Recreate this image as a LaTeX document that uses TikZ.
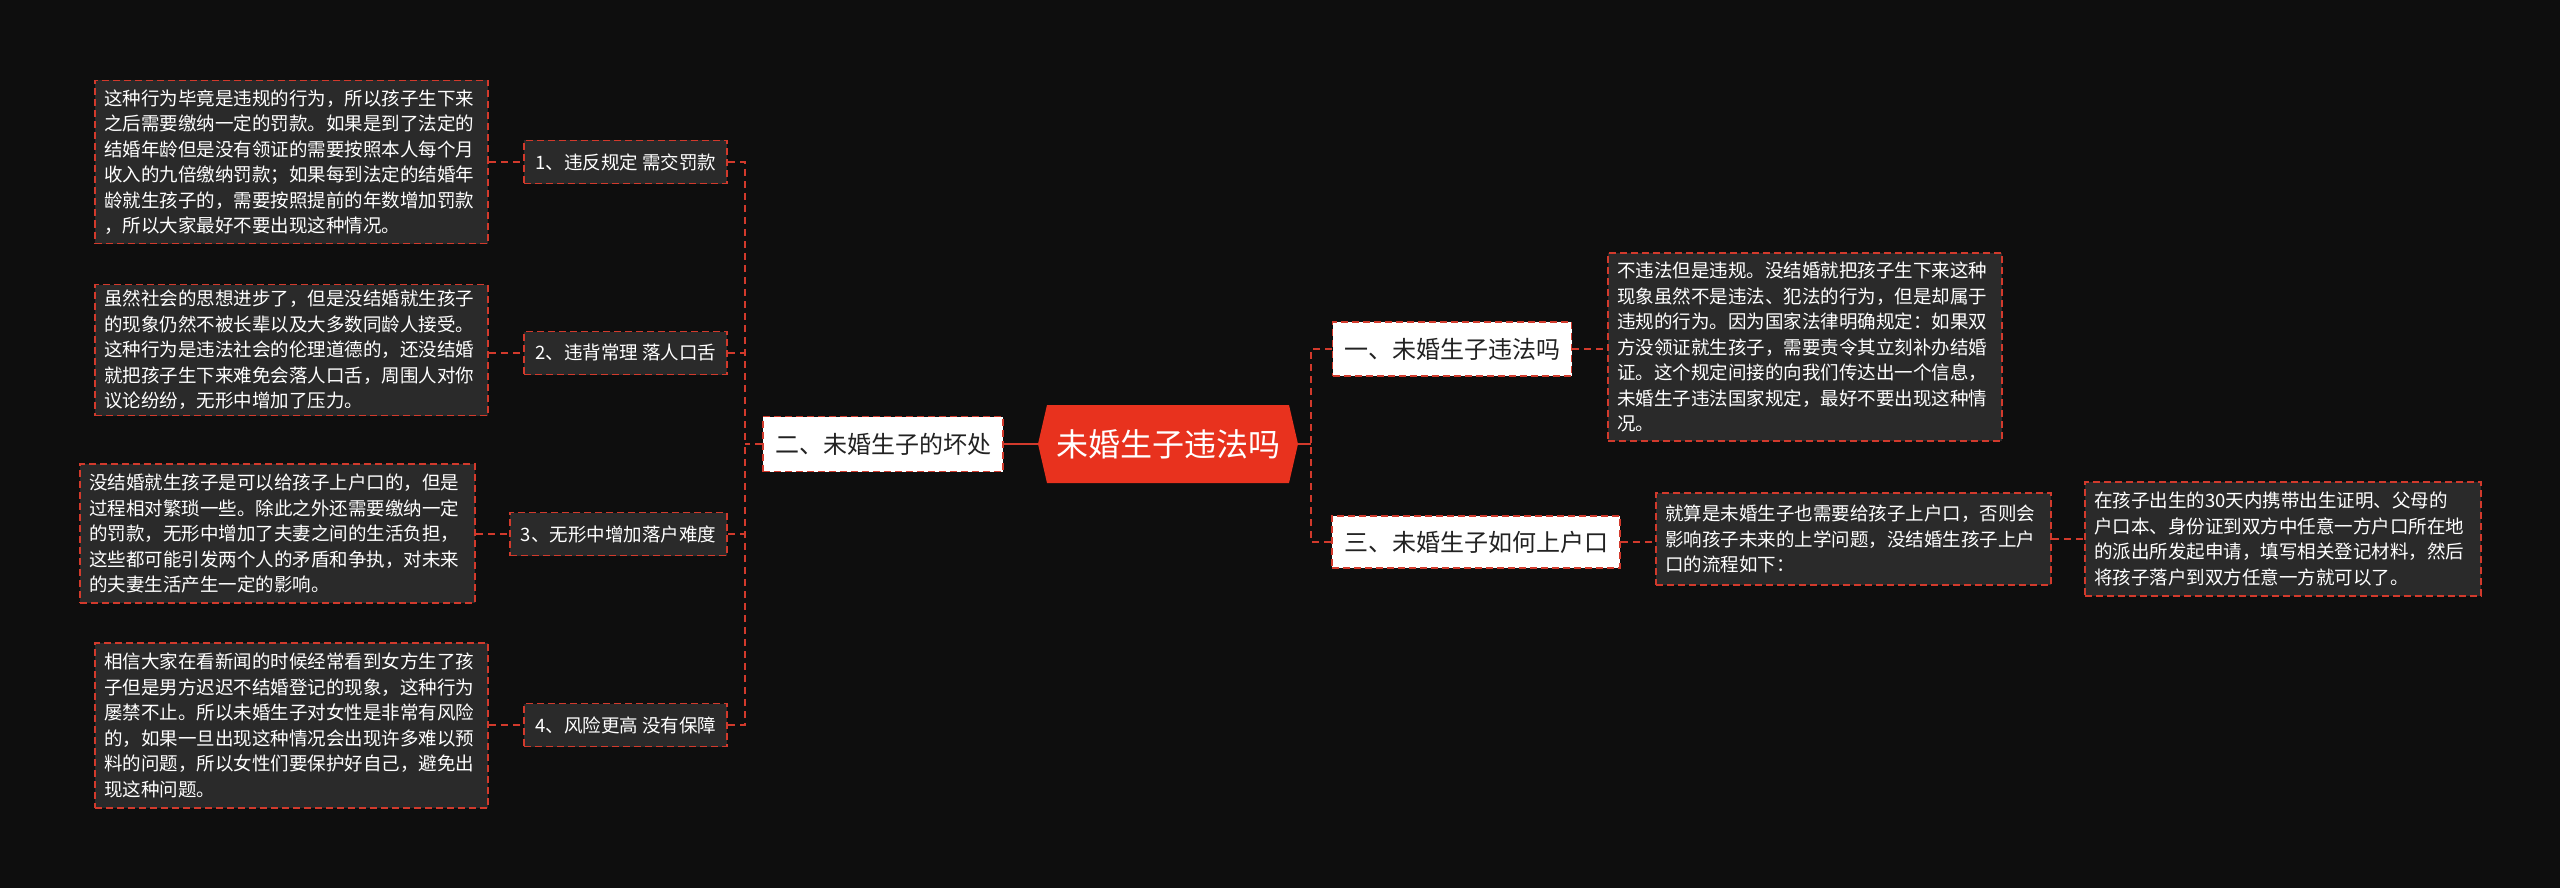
\documentclass[tikz,border=0pt]{standalone}
\usepackage{fontspec}
\setmainfont{Noto Sans CJK SC}
\definecolor{bg}{HTML}{0E0E0E}
\definecolor{boxfill}{HTML}{2A2A2A}
\definecolor{redline}{HTML}{D23A2C}
\definecolor{rootfill}{HTML}{E8321E}
\definecolor{darktext}{HTML}{222222}
\begin{document}
\begin{tikzpicture}[x=1pt,y=-1pt,
  conn/.style={draw=redline, line width=1.8pt, dash pattern=on 7pt off 5pt},
  solidconn/.style={draw=redline, line width=2pt},
  dashbox/.style={draw=redline, line width=1.6pt, dash pattern=on 7pt off 4pt},
  detail/.style={dashbox, fill=boxfill, text=white, align=left, inner xsep=9pt, inner ysep=0pt,
    font=\fontsize{18.5}{25.5}\selectfont, anchor=center},
  leaf/.style={dashbox, fill=boxfill, text=white, font=\fontsize{18.5}{22}\selectfont,
    minimum height=43pt, inner xsep=11pt, anchor=east},
  branch/.style={dashbox, fill=white, text=darktext, font=\fontsize{24}{28}\selectfont,
    minimum height=55pt, inner xsep=0pt}]
\fill[bg] (0,0) rectangle (2560,888);
\useasboundingbox (0,0) rectangle (2560,888);

% root
\fill[rootfill] (1047,405) -- (1289,405) -- (1298,444) -- (1289,483) -- (1047,483) -- (1038,444) -- cycle;
\node[text=white, font=\fontsize{32}{36}\selectfont, minimum width=260pt, minimum height=78pt] (root) at (1168,444) {未婚生子违法吗};

% branches
\node[branch, minimum width=240pt] (two) at (883,444) {二、未婚生子的坏处};
\node[branch, minimum width=239pt, minimum height=54pt] (one) at (1452,349) {一、未婚生子违法吗};
\node[branch, minimum width=288pt, minimum height=52pt] (three) at (1476,542) {三、未婚生子如何上户口};

% leaves
\node[leaf] (l1) at (728,162) {1、违反规定 需交罚款};
\node[leaf] (l2) at (728,353) {2、违背常理 落人口舌};
\node[leaf] (l3) at (728,534) {3、无形中增加落户难度};
\node[leaf] (l4) at (728,725) {4、风险更高 没有保障};

% details
\node[detail, text width=375pt, minimum height=163pt] (d1) at (291.5,162) {这种行为毕竟是违规的行为，所以孩子生下来\\之后需要缴纳一定的罚款。如果是到了法定的\\结婚年龄但是没有领证的需要按照本人每个月\\收入的九倍缴纳罚款；如果每到法定的结婚年\\龄就生孩子的，需要按照提前的年数增加罚款\\，所以大家最好不要出现这种情况。};
\node[detail, text width=375pt, minimum height=131pt] (d2) at (291.5,350) {虽然社会的思想进步了，但是没结婚就生孩子\\的现象仍然不被长辈以及大多数同龄人接受。\\这种行为是违法社会的伦理道德的，还没结婚\\就把孩子生下来难免会落人口舌，周围人对你\\议论纷纷，无形中增加了压力。};
\node[detail, text width=377pt, minimum height=139pt] (d3) at (277.5,533.5) {没结婚就生孩子是可以给孩子上户口的，但是\\过程相对繁琐一些。除此之外还需要缴纳一定\\的罚款，无形中增加了夫妻之间的生活负担，\\这些都可能引发两个人的矛盾和争执，对未来\\的夫妻生活产生一定的影响。};
\node[detail, text width=375pt, minimum height=165pt] (d4) at (291.5,725.5) {相信大家在看新闻的时候经常看到女方生了孩\\子但是男方迟迟不结婚登记的现象，这种行为\\屡禁不止。所以未婚生子对女性是非常有风险\\的，如果一旦出现这种情况会出现许多难以预\\料的问题，所以女性们要保护好自己，避免出\\现这种问题。};
\node[detail, text width=376pt, minimum height=188pt] (d5) at (1805,347) {不违法但是违规。没结婚就把孩子生下来这种\\现象虽然不是违法、犯法的行为，但是却属于\\违规的行为。因为国家法律明确规定：如果双\\方没领证就生孩子，需要责令其立刻补办结婚\\证。这个规定间接的向我们传达出一个信息，\\未婚生子违法国家规定，最好不要出现这种情\\况。};
\node[detail, text width=377pt, minimum height=92pt] (d6) at (1853.5,539) {就算是未婚生子也需要给孩子上户口，否则会\\影响孩子未来的上学问题，没结婚生孩子上户\\口的流程如下：};
\node[detail, text width=378pt, minimum height=114pt] (d7) at (2283,539) {在孩子出生的30天内携带出生证明、父母的\\户口本、身份证到双方中任意一方户口所在地\\的派出所发起申请，填写相关登记材料，然后\\将孩子落户到双方任意一方就可以了。};

% bus coordinates
\coordinate (lb) at (745,444);
\coordinate (rb) at (1311,444);

% connectors
\draw[solidconn] (root.west) -- (two.east);
\draw[solidconn] (root.east) -- (rb);
\draw[conn] (two.west) -- (lb);
\draw[conn] (l1.east) -| (lb);
\draw[conn] (l4.east) -| (lb);
\draw[conn] (l2.east) -- (l2.east -| lb);
\draw[conn] (l3.east) -- (l3.east -| lb);
\draw[conn] (one.west) -| (rb);
\draw[conn] (three.west) -| (rb);
\draw[conn] (d1.east |- l1.west) -- (l1.west);
\draw[conn] (d2.east |- l2.west) -- (l2.west);
\draw[conn] (d3.east |- l3.west) -- (l3.west);
\draw[conn] (d4.east |- l4.west) -- (l4.west);
\draw[conn] (one.east) -- (d5.west |- one.east);
\draw[conn] (three.east) -- (d6.west |- three.east);
\draw[conn] (d6.east) -- (d7.west);
\end{tikzpicture}
\end{document}
